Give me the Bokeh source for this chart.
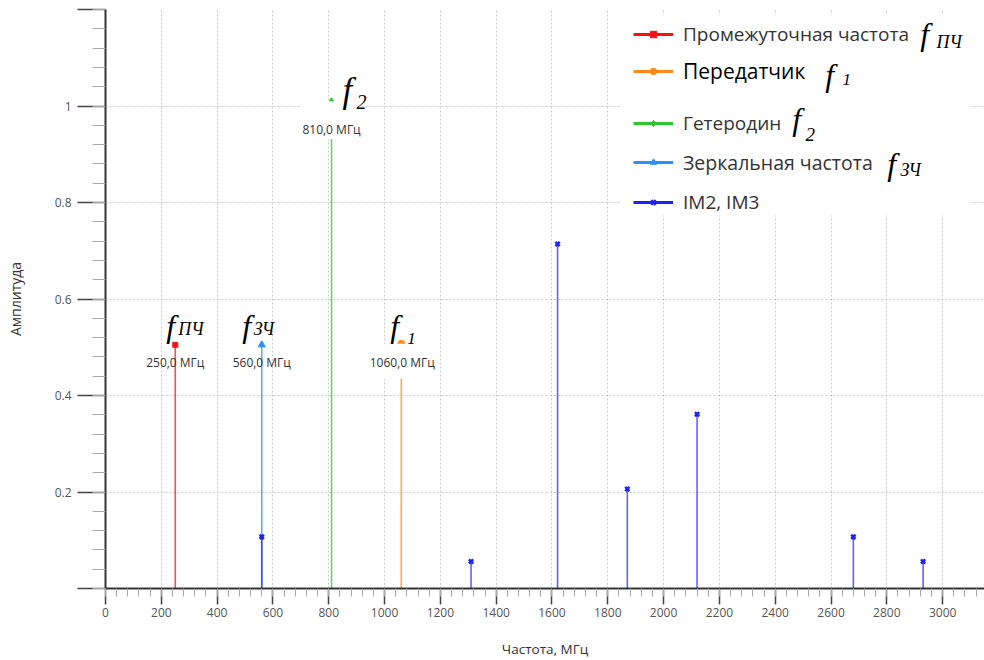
from bokeh.plotting import figure
from bokeh.models import Range1d, FixedTicker, Label, Legend, LegendItem, BoxAnnotation, ColumnDataSource
from bokeh.embed import file_html
from bokeh.resources import INLINE

# ---------------- data ----------------
main_names = ["Промежуточная частота", "Передатчик", "Гетеродин", "Зеркальная частота"]
main_freq = [250, 1060, 810, 560]
main_amp = [0.505, 0.507, 1.01, 0.505]
main_sub = ["ПЧ", "1", "2", "ЗЧ"]
freq_labels = ["250,0 МГц", "1060,0 МГц", "810,0 МГц", "560,0 МГц"]

im_name = "IM2, IM3"
im_freq = [560, 1310, 1620, 1870, 2120, 2680, 2930]
im_amp = [0.107, 0.056, 0.714, 0.206, 0.361, 0.107, 0.056]

x_ticks = list(range(0, 3001, 200))
x_minor = list(range(0, 3160, 40))
y_ticks = [0.0, 0.2, 0.4, 0.6, 0.8, 1.0, 1.2]
y_tick_labels = ["", "0.2", "0.4", "0.6", "0.8", "1", ""]
y_minor = [round(i * 0.04, 2) for i in range(0, 31)]

# ---------------- styles ----------------
main_colors = ["#ff1010", "#ff8a1a", "#2ec82e", "#2a90ff"]
main_markers = ["square", "circle", "diamond", "triangle"]
main_msize = [5, 7, 7, 7]
im_color = "#2020ff"
SANS = "Open Sans"
SERIF = "Liberation Serif"
NAN = float("nan")

W, H = 984, 660
L, R, T, B = 105, 0, 9, 69

p = figure(width=W, height=H, output_backend="svg", toolbar_location=None,
           x_range=Range1d(0, 3150), y_range=Range1d(0, 1.2),
           min_border_left=L, min_border_right=R, min_border_top=T, min_border_bottom=B)
p.outline_line_color = None
p.background_fill_color = "white"
p.border_fill_color = "white"

xa = p.xaxis[0]
xa.ticker = FixedTicker(ticks=x_ticks, minor_ticks=x_minor)
xa.major_tick_in = 0
xa.major_tick_out = 16
xa.minor_tick_in = 0
xa.minor_tick_out = 8
xa.axis_line_color = "#333333"
xa.axis_line_width = 2
xa.major_tick_line_color = "#444444"
xa.major_tick_line_width = 1.5
xa.minor_tick_line_color = "#aaaaaa"
xa.major_label_text_font = SANS
xa.major_label_text_font_size = "12px"
xa.major_label_text_color = "#555555"
xa.major_label_standoff = 3
xa.axis_label = "Частота, МГц"
xa.axis_label_text_font = SANS
xa.axis_label_text_font_style = "normal"
xa.axis_label_text_font_size = "13.5px"
xa.axis_label_text_color = "#333333"
xa.axis_label_standoff = 20

ya = p.yaxis[0]
ya.ticker = FixedTicker(ticks=y_ticks, minor_ticks=y_minor)
ya.major_label_overrides = {t: s for t, s in zip(y_ticks, y_tick_labels)}
ya.major_tick_in = 0
ya.major_tick_out = 28
ya.minor_tick_in = 0
ya.minor_tick_out = 13
ya.axis_line_color = "#333333"
ya.axis_line_width = 2
ya.major_tick_line_color = "#444444"
ya.major_tick_line_width = 1.5
ya.minor_tick_line_color = "#aaaaaa"
ya.major_label_text_font = SANS
ya.major_label_text_font_size = "12px"
ya.major_label_text_color = "#555555"
ya.major_label_standoff = 6
ya.axis_label = "Амплитуда"
ya.axis_label_text_font = SANS
ya.axis_label_text_font_style = "normal"
ya.axis_label_text_font_size = "14px"
ya.axis_label_text_color = "#333333"
ya.axis_label_standoff = 27

for g in (p.xgrid[0], p.ygrid[0]):
    g.grid_line_color = "#c8c8c8"
    g.grid_line_dash = "2 2"
    g.grid_line_width = 1

# ---------------- stems ----------------
src = ColumnDataSource(dict(x=main_freq, y=main_amp, c=main_colors, m=main_markers, s=main_msize))
p.segment(x0="x", y0=0, x1="x", y1="y", line_color="c", line_width=1.6, line_alpha=0.75, source=src)
p.scatter(x="x", y="y", marker="m", size="s", fill_color="c", line_color="c", source=src)

im_src = ColumnDataSource(dict(x=im_freq, y=im_amp))
p.segment(x0="x", y0=0, x1="x", y1="y", line_color=im_color, line_width=1.6, line_alpha=0.7, source=im_src)
p.scatter(x="x", y="y", marker="x", size=6, line_width=2.5, line_color=im_color, source=im_src)

# ---------------- helpers ----------------
def add_label(x, y, text, size, font=SANS, style="normal", color="#333333", units="data",
              xo=0, yo=0, align="left", baseline="alphabetic", bg=None, pad=0):
    lab = Label(x=x, y=y, x_units=units, y_units=units, x_offset=xo, y_offset=yo, text=text,
                text_font=font, text_font_style=style, text_font_size=f"{size}px",
                text_color=color, text_align=align, text_baseline=baseline,
                background_fill_color=bg, padding=pad)
    p.add_layout(lab)

# frequency labels (offsets from the peak, screen px); the boxed ones hang from the peak
lab_off = [(0, -18, "alphabetic", None, 0),
           (1, 0, "top", "white", dict(left=2, right=2, top=10, bottom=8)),
           (0, 0, "top", "white", dict(left=2, right=2, top=20, bottom=1)),
           (0, -18, "alphabetic", None, 0)]
for fx, fy, txt, (xo, yo, bl, bg, pad) in zip(main_freq, main_amp, freq_labels, lab_off):
    add_label(fx, fy, txt, 12, xo=xo, yo=yo, align="center", baseline=bl, bg=bg, pad=pad)

# f symbols near peaks: (f x_off, f y_off, f size, sub x_off, sub y_off, sub size)
f_off = [(-9, 19, 32, 3, 16, 18), (-11, 18, 32, 6, 5, 17),
         (9, 11, 35, 25, -1, 20), (-19.5, 19, 32, -8, 16, 18)]
for fx, fy, sub, (a, b, fs, c, d, ss) in zip(main_freq, main_amp, main_sub, f_off):
    bg = "white" if sub == "2" else None
    add_label(fx, fy, "f", fs, font=SERIF, style="italic", color="#000000", xo=a, yo=b, bg=bg, pad=2 if bg else 0)
    add_label(fx, fy, sub, ss, font=SERIF, style="italic", color="#000000", xo=c, yo=d)

# ---------------- legend ----------------
fb = H - B
p.add_layout(BoxAnnotation(left=620 - L, right=970 - L, top=fb - 17, bottom=fb - 218,
                           left_units="screen", right_units="screen", top_units="screen", bottom_units="screen",
                           fill_color="white", fill_alpha=1.0, line_color=None, level="annotation"))

leg_names = main_names + [im_name]
leg_colors = main_colors + [im_color]
leg_markers = main_markers + ["x"]
leg_rows = [34, 72, 123, 163, 202]
leg_font = [19, 21, 19, 19.5, 19]
leg_text_color = ["#333333", "#000000", "#333333", "#333333", "#333333"]
GH = 16
ROW = 31
for name, col, mk, yc, fsz, tc in zip(leg_names, leg_colors, leg_markers, leg_rows, leg_font, leg_text_color):
    lr = p.line(x=[NAN], y=[NAN], line_color=col, line_width=3)
    if mk == "x":
        mr = p.scatter(x=[NAN], y=[NAN], marker=mk, line_color=col, line_width=2.5)
    else:
        mr = p.scatter(x=[NAN], y=[NAN], marker=mk, fill_color=col, line_color=col)
    lg = Legend(items=[LegendItem(label=name, renderers=[lr, mr])],
                location=(633 - L, fb - yc - ROW / 2), orientation="vertical",
                glyph_width=40, glyph_height=GH, label_height=GH, label_standoff=10,
                padding=0, margin=0, spacing=0,
                border_line_color=None, background_fill_alpha=0,
                label_text_font=SANS, label_text_font_size=f"{fsz}px", label_text_color=tc)
    p.add_layout(lg)

# f symbols in legend (screen px: f origin x, f baseline y, sub origin x, sub baseline y, f size, sub size)
leg_f = [(919.7, 36.5, 936, 44, 32, 18), (824.7, 77.4, 842, 82, 32, 17),
         (791.7, 121.4, 805, 137, 32, 19), (886.7, 166.4, 900, 172, 32, 18)]
for sub, (fxp, fyp, sxp, syp, fs, ss) in zip(main_sub, leg_f):
    add_label(fxp - L, fb - fyp, "f", fs, font=SERIF, style="italic", color="#000000", units="screen")
    add_label(sxp - L, fb - syp, sub, ss, font=SERIF, style="italic", color="#000000", units="screen")

open("out.html", "w").write(file_html(p, INLINE))
